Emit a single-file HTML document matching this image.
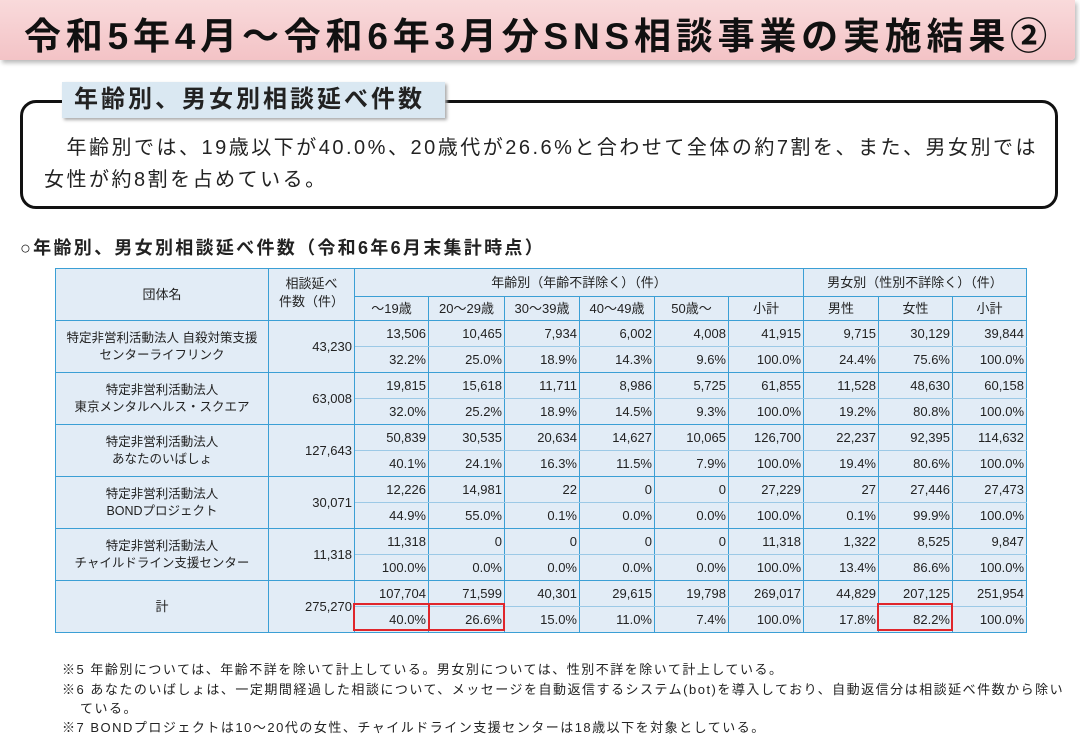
<!DOCTYPE html>
<html><head><meta charset="utf-8">
<style>
body{margin:0;width:1080px;height:734px;background:#fff;position:relative;overflow:hidden;font-family:"Liberation Sans","Noto Sans CJK JP",sans-serif;color:#222}
.banner{position:absolute;left:0;top:0;width:1075px;height:60px;background:linear-gradient(#f9dadb,#f3c3c6);box-shadow:2px 3px 4px #bbb;border-radius:0 0 4px 0}
.banner div{position:absolute;left:24px;top:6px;font-size:37px;font-weight:bold;color:#111;white-space:nowrap;letter-spacing:4.8px}
.box{position:absolute;left:20px;top:100px;width:1032px;height:103px;border:3px solid #111;border-radius:16px}
.label{position:absolute;left:62px;top:82px;width:383px;height:36px;background:#dae8f2;box-shadow:2px 2px 3px #aaa;font-size:24px;font-weight:bold;line-height:36px;padding-left:12px;box-sizing:border-box;letter-spacing:3px;white-space:nowrap}
.bt{position:absolute;left:44px;font-size:20px;white-space:nowrap;letter-spacing:2.5px}
.sub{position:absolute;left:20px;top:234px;font-size:18px;font-weight:bold;white-space:nowrap;letter-spacing:2.3px}
table{position:absolute;left:55px;top:268px;border-collapse:collapse;table-layout:fixed;font-size:13px;background:#e2ecf6}
td{border:1.5px solid #3b9fd5;padding:0 2px;text-align:right;white-space:nowrap;overflow:visible;line-height:1}
td.c{text-align:center;line-height:1.35}
tr.top td.n{border-bottom:1px solid #9cc9e6}
tr.bot td.n{border-top:1px solid #9cc9e6}
.red{position:absolute;border:2px solid #e0262b;box-sizing:border-box;height:28px;top:603px}
.fn{position:absolute;left:62px;font-size:13px;white-space:nowrap;letter-spacing:1.5px}
</style></head><body>
<div class="banner"><div>令和5年4月～令和6年3月分SNS相談事業の実施結果②</div></div>
<div class="box"></div>
<div class="label">年齢別、男女別相談延べ件数</div>
<div class="bt" style="top:131px">　年齢別では、19歳以下が40.0%、20歳代が26.6%と合わせて全体の約7割を、また、男女別では</div>
<div class="bt" style="top:163px">女性が約8割を占めている。</div>
<div class="sub">○年齢別、男女別相談延べ件数（令和6年6月末集計時点）</div>
<table>
<colgroup><col style="width:213px"><col style="width:86px"><col style="width:74px"><col style="width:76px"><col style="width:75px"><col style="width:75px"><col style="width:74px"><col style="width:75px"><col style="width:75px"><col style="width:74px"><col style="width:74px"></colgroup>
<tr style="height:28px"><td class="c" rowspan="2">団体名</td><td class="c" rowspan="2" style="vertical-align:top;padding-top:6px">相談延べ<br>件数（件）</td><td class="c" colspan="6">年齢別（年齢不詳除く）（件）</td><td class="c" colspan="3">男女別（性別不詳除く）（件）</td></tr>
<tr style="height:24px"><td class="c">～19歳</td><td class="c">20～29歳</td><td class="c">30～39歳</td><td class="c">40～49歳</td><td class="c">50歳～</td><td class="c">小計</td><td class="c">男性</td><td class="c">女性</td><td class="c">小計</td></tr>

<tr class="top" style="height:26px"><td class="c" rowspan="2" style="font-size:12.5px">特定非営利活動法人 自殺対策支援<br>センターライフリンク</td><td rowspan="2">43,230</td><td class="n">13,506</td><td class="n">10,465</td><td class="n">7,934</td><td class="n">6,002</td><td class="n">4,008</td><td class="n">41,915</td><td class="n">9,715</td><td class="n">30,129</td><td class="n">39,844</td></tr>
<tr class="bot" style="height:26px"><td class="n">32.2%</td><td class="n">25.0%</td><td class="n">18.9%</td><td class="n">14.3%</td><td class="n">9.6%</td><td class="n">100.0%</td><td class="n">24.4%</td><td class="n">75.6%</td><td class="n">100.0%</td></tr>

<tr class="top" style="height:26px"><td class="c" rowspan="2" style="font-size:12.5px">特定非営利活動法人<br>東京メンタルヘルス・スクエア</td><td rowspan="2">63,008</td><td class="n">19,815</td><td class="n">15,618</td><td class="n">11,711</td><td class="n">8,986</td><td class="n">5,725</td><td class="n">61,855</td><td class="n">11,528</td><td class="n">48,630</td><td class="n">60,158</td></tr>
<tr class="bot" style="height:26px"><td class="n">32.0%</td><td class="n">25.2%</td><td class="n">18.9%</td><td class="n">14.5%</td><td class="n">9.3%</td><td class="n">100.0%</td><td class="n">19.2%</td><td class="n">80.8%</td><td class="n">100.0%</td></tr>

<tr class="top" style="height:26px"><td class="c" rowspan="2" style="font-size:12.5px">特定非営利活動法人<br>あなたのいばしょ</td><td rowspan="2">127,643</td><td class="n">50,839</td><td class="n">30,535</td><td class="n">20,634</td><td class="n">14,627</td><td class="n">10,065</td><td class="n">126,700</td><td class="n">22,237</td><td class="n">92,395</td><td class="n">114,632</td></tr>
<tr class="bot" style="height:26px"><td class="n">40.1%</td><td class="n">24.1%</td><td class="n">16.3%</td><td class="n">11.5%</td><td class="n">7.9%</td><td class="n">100.0%</td><td class="n">19.4%</td><td class="n">80.6%</td><td class="n">100.0%</td></tr>

<tr class="top" style="height:26px"><td class="c" rowspan="2" style="font-size:12.5px">特定非営利活動法人<br>BONDプロジェクト</td><td rowspan="2">30,071</td><td class="n">12,226</td><td class="n">14,981</td><td class="n">22</td><td class="n">0</td><td class="n">0</td><td class="n">27,229</td><td class="n">27</td><td class="n">27,446</td><td class="n">27,473</td></tr>
<tr class="bot" style="height:26px"><td class="n">44.9%</td><td class="n">55.0%</td><td class="n">0.1%</td><td class="n">0.0%</td><td class="n">0.0%</td><td class="n">100.0%</td><td class="n">0.1%</td><td class="n">99.9%</td><td class="n">100.0%</td></tr>

<tr class="top" style="height:26px"><td class="c" rowspan="2" style="font-size:12.5px">特定非営利活動法人<br>チャイルドライン支援センター</td><td rowspan="2">11,318</td><td class="n">11,318</td><td class="n">0</td><td class="n">0</td><td class="n">0</td><td class="n">0</td><td class="n">11,318</td><td class="n">1,322</td><td class="n">8,525</td><td class="n">9,847</td></tr>
<tr class="bot" style="height:26px"><td class="n">100.0%</td><td class="n">0.0%</td><td class="n">0.0%</td><td class="n">0.0%</td><td class="n">0.0%</td><td class="n">100.0%</td><td class="n">13.4%</td><td class="n">86.6%</td><td class="n">100.0%</td></tr>

<tr class="top" style="height:26px"><td class="c" rowspan="2">計</td><td rowspan="2">275,270</td><td class="n">107,704</td><td class="n">71,599</td><td class="n">40,301</td><td class="n">29,615</td><td class="n">19,798</td><td class="n">269,017</td><td class="n">44,829</td><td class="n">207,125</td><td class="n">251,954</td></tr>
<tr class="bot" style="height:26px"><td class="n">40.0%</td><td class="n">26.6%</td><td class="n">15.0%</td><td class="n">11.0%</td><td class="n">7.4%</td><td class="n">100.0%</td><td class="n">17.8%</td><td class="n">82.2%</td><td class="n">100.0%</td></tr>
</table>
<div class="red" style="left:353px;width:77px"></div>
<div class="red" style="left:428px;width:77px"></div>
<div class="red" style="left:877px;width:76px"></div>
<div class="fn" style="top:659px">※5 年齢別については、年齢不詳を除いて計上している。男女別については、性別不詳を除いて計上している。</div>
<div class="fn" style="top:679px">※6 あなたのいばしょは、一定期間経過した相談について、メッセージを自動返信するシステム(bot)を導入しており、自動返信分は相談延べ件数から除い</div>
<div class="fn" style="top:698px;left:80px">ている。</div>
<div class="fn" style="top:717px">※7 BONDプロジェクトは10～20代の女性、チャイルドライン支援センターは18歳以下を対象としている。</div>
</body></html>
